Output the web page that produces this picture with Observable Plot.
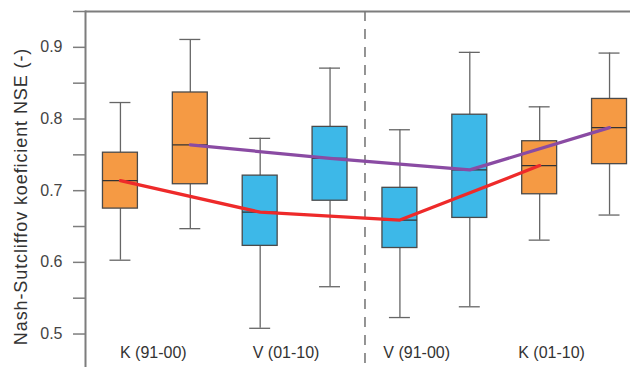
<!DOCTYPE html>
<html><head><meta charset="utf-8">
<script src="https://cdn.jsdelivr.net/npm/d3@7"></script>
<script src="https://cdn.jsdelivr.net/npm/@observablehq/plot@0.6"></script>
<style>body{margin:0;background:#fff} svg text[transform*="rotate(-90"]{letter-spacing:0.9px}</style>
</head><body><div id="chart"></div>
<script>
// Box positions (1..8) and period groups
const positions = [1, 2, 3, 4, 5, 6, 7, 8];
const groups = ["K", "K", "V", "V", "V", "V", "K", "K"];
const whiskerHigh = [0.823, 0.911, 0.773, 0.871, 0.785, 0.893, 0.817, 0.892];
const q3 = [0.753, 0.837, 0.721, 0.789, 0.704, 0.806, 0.769, 0.828];
const median = [0.714, 0.764, 0.670, 0.745, 0.659, 0.729, 0.735, 0.788];
const q1 = [0.675, 0.709, 0.623, 0.686, 0.620, 0.662, 0.695, 0.737];
const whiskerLow = [0.603, 0.647, 0.508, 0.566, 0.523, 0.538, 0.631, 0.666];
// median-connecting lines (indices of boxes)
const redLineIdx = [0, 2, 4, 6];
const purpleLineIdx = [1, 3, 5, 7];
// category labels and their positions on x
const categoryLabels = ["K (91-00)", "V (01-10)", "V (91-00)", "K (01-10)"];
const categoryLabelPos = [1.47, 3.37, 5.24, 7.17];
const periodSplit = [4.5];
const yTicks = [0.5, 0.55, 0.6, 0.65, 0.7, 0.75, 0.8, 0.85, 0.9, 0.95];
const yLabelled = [0.5, 0.6, 0.7, 0.8, 0.9];
const yTitle = "Nash-Sutcliffov koeficient NSE (-)";

const colors = {K: "#F59A44", V: "#3DB8E8"};
const rows = positions.map((p, i) => ({
  pos: p, group: groups[i], hi: whiskerHigh[i], q3: q3[i], med: median[i], q1: q1[i], lo: whiskerLow[i]
}));
const redLine = redLineIdx.map(i => rows[i]);
const purpleLine = purpleLineIdx.map(i => rows[i]);
const halfBox = 0.25, halfCap = 0.15;
const axisGray = "#7d7d7d";

const chart = Plot.plot({
  width: 630,
  height: 367,
  marginLeft: 85,
  marginRight: 0,
  marginTop: 11,
  marginBottom: 0,
  style: {fontFamily: "'Liberation Sans', Arial, sans-serif", color: "#333", background: "#fff"},
  x: {domain: [0.5, 8.3], axis: null},
  y: {domain: [0.4533, 0.95], axis: null},
  marks: [
    Plot.ruleY([d3.max(yTicks)], {stroke: axisGray, strokeWidth: 2}),
    Plot.ruleX(periodSplit, {stroke: "#7a7a7a", strokeWidth: 1.6, strokeDasharray: "10,8"}),
    Plot.ruleX(rows, {x: "pos", y1: "lo", y2: "q1", stroke: "#666", strokeWidth: 1.3}),
    Plot.ruleX(rows, {x: "pos", y1: "q3", y2: "hi", stroke: "#666", strokeWidth: 1.3}),
    Plot.ruleY(rows, {y: "hi", x1: d => d.pos - halfCap, x2: d => d.pos + halfCap, stroke: "#666", strokeWidth: 1.3}),
    Plot.ruleY(rows, {y: "lo", x1: d => d.pos - halfCap, x2: d => d.pos + halfCap, stroke: "#666", strokeWidth: 1.3}),
    Plot.rect(rows, {x1: d => d.pos - halfBox, x2: d => d.pos + halfBox, y1: "q1", y2: "q3",
      fill: d => colors[d.group], stroke: "#4a4a4a", strokeWidth: 1.3}),
    Plot.ruleY(rows, {y: "med", x1: d => d.pos - halfBox, x2: d => d.pos + halfBox, stroke: "#333", strokeWidth: 1.3}),
    Plot.line(redLine, {x: "pos", y: "med", stroke: "#EE2A2A", strokeWidth: 3.2}),
    Plot.line(purpleLine, {x: "pos", y: "med", stroke: "#8A4BA3", strokeWidth: 3.2}),
    Plot.frame({anchor: "left", stroke: axisGray, strokeWidth: 2}),
    Plot.axisY(yTicks, {tickSize: 12, tickPadding: 11, stroke: axisGray, strokeWidth: 1.5,
      tickFormat: d => yLabelled.some(v => Math.abs(v - d) < 1e-9) ? d.toFixed(1) : "",
      fontSize: 16, fill: "#444"}),
    Plot.text(categoryLabelPos, {x: d => d, text: (d, i) => categoryLabels[i], frameAnchor: "bottom", dy: -9.5,
      fontSize: 16, fill: "#333"}),
    Plot.text([yTitle], {text: d => d, frameAnchor: "left", textAnchor: "middle", rotate: -90, dx: -64, dy: 7,
      fontSize: 18, fill: "#333"})
  ]
});
document.getElementById("chart").appendChild(chart);
</script>
</body></html>
